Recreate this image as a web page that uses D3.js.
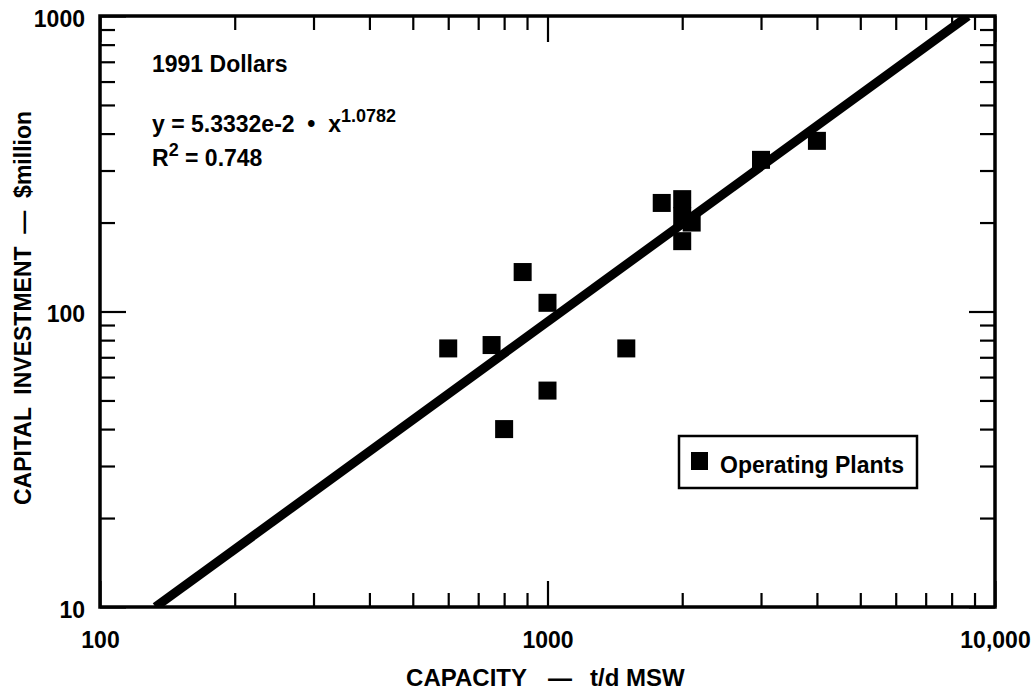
<!DOCTYPE html>
<html>
<head>
<meta charset="utf-8">
<script src="https://cdn.jsdelivr.net/npm/d3@7"></script>
<style>
  html, body { margin: 0; padding: 0; background: #fff; }
  svg { display: block; }
  text { font-family: "Liberation Sans", Arial, Helvetica, sans-serif; font-weight: bold; fill: #000; }
</style>
</head>
<body>
<svg id="chart" width="1033" height="692"></svg>
<script>
// ---- data ----
const capacity   = [600, 750, 880, 1000, 1000, 800, 1500, 1800, 2000, 2000, 2000, 2100, 3000, 4000];
const investment = [75,  77,  136, 107,  54,   40,  75,   233,  240,  210,  173,  200,  326,  378];
const trendX = [133, 8700];
const trendY = [10, 1000];
const xMajorTicks = [100, 1000, 10000];
const xMajorLabels = ["100", "1000", "10,000"];
const xMinorTicks = [200, 300, 400, 500, 600, 700, 800, 900, 2000, 3000, 4000, 5000, 6000, 7000, 8000, 9000];
const yMajorTicks = [10, 100, 1000];
const yMajorLabels = ["10", "100", "1000"];
const yMinorTicks = [20, 30, 40, 50, 60, 70, 80, 90, 200, 300, 400, 500, 600, 700, 800, 900];
const xTitleParts = ["CAPACITY", "\u2014", "t/d MSW"];
const yTitle = "CAPITAL  INVESTMENT  \u2014  $million";
const legendLabel = "Operating Plants";

// ---- layout ----
const L = 100, R = 995, T = 16, B = 607;
const svg = d3.select("#chart");
const x = d3.scaleLog().domain([100, 10000]).range([L, R]);
const y = d3.scaleLog().domain([10, 1000]).range([B, T]);

function styleAxis(g) {
  g.select(".domain").remove();
  g.selectAll(".tick line").attr("stroke", "#000").attr("stroke-width", 2.2);
  g.selectAll("text").attr("font-size", 23).attr("font-family", '"Liberation Sans", Arial, sans-serif').attr("font-weight", "bold");
}

// bottom axis
svg.append("g").attr("transform", `translate(0,${B})`)
  .call(d3.axisBottom(x).tickValues(xMinorTicks).tickSize(-14).tickFormat(""))
  .call(styleAxis);
svg.append("g").attr("transform", `translate(0,${B})`)
  .call(d3.axisBottom(x).tickValues(xMajorTicks).tickSize(-26).tickPadding(25)
        .tickFormat((d, i) => xMajorLabels[i]))
  .call(styleAxis);
// top axis
svg.append("g").attr("transform", `translate(0,${T})`)
  .call(d3.axisTop(x).tickValues(xMinorTicks).tickSize(-14).tickFormat(""))
  .call(styleAxis);
svg.append("g").attr("transform", `translate(0,${T})`)
  .call(d3.axisTop(x).tickValues(xMajorTicks).tickSize(-26).tickFormat(""))
  .call(styleAxis);
// left axis
svg.append("g").attr("transform", `translate(${L},0)`)
  .call(d3.axisLeft(y).tickValues(yMinorTicks).tickSize(-15).tickFormat(""))
  .call(styleAxis);
svg.append("g").attr("transform", `translate(${L},0)`)
  .call(d3.axisLeft(y).tickValues(yMajorTicks).tickSize(-26).tickPadding(15)
        .tickFormat((d, i) => yMajorLabels[i]))
  .call(styleAxis)
  .call(g => g.selectAll("text").attr("dy", "0.45em"));
// right axis
svg.append("g").attr("transform", `translate(${R},0)`)
  .call(d3.axisRight(y).tickValues(yMinorTicks).tickSize(-15).tickFormat(""))
  .call(styleAxis);
svg.append("g").attr("transform", `translate(${R},0)`)
  .call(d3.axisRight(y).tickValues(yMajorTicks).tickSize(-26).tickFormat(""))
  .call(styleAxis);

// clip for the trend line
svg.append("clipPath").attr("id", "plotclip")
  .append("rect").attr("x", L).attr("y", T).attr("width", R - L).attr("height", B - T);

// trend line
const trend = trendX.map((d, i) => [d, trendY[i]]);
svg.append("path")
  .datum(trend)
  .attr("clip-path", "url(#plotclip)")
  .attr("fill", "none").attr("stroke", "#000").attr("stroke-width", 9)
  .attr("d", d3.line().x(d => x(d[0])).y(d => y(d[1])));

// points
const S = 18;
svg.append("g").selectAll("rect")
  .data(capacity.map((c, i) => [c, investment[i]]))
  .join("rect")
  .attr("x", d => x(d[0]) - S / 2)
  .attr("y", d => y(d[1]) - S / 2)
  .attr("width", S).attr("height", S)
  .attr("fill", "#000");

// frame
svg.append("rect").attr("x", L).attr("y", T).attr("width", R - L).attr("height", B - T)
  .attr("fill", "none").attr("stroke", "#000").attr("stroke-width", 3.5);

// annotations
svg.append("text").attr("x", 152).attr("y", 72).attr("font-size", 23).text("1991 Dollars");
const eq = svg.append("text").attr("x", 152).attr("y", 132).attr("font-size", 23)
  .style("white-space", "pre");
eq.append("tspan").text("y = 5.3332e-2  \u2022  x");
eq.append("tspan").attr("font-size", 18).attr("dy", -10).text("1.0782");
const r2 = svg.append("text").attr("x", 152).attr("y", 166).attr("font-size", 23)
  .style("white-space", "pre");
r2.append("tspan").text("R");
r2.append("tspan").attr("font-size", 18).attr("dy", -10).text("2");
r2.append("tspan").attr("dy", 10).text(" = 0.748");

// legend
svg.append("rect").attr("x", 679).attr("y", 436).attr("width", 238).attr("height", 52)
  .attr("fill", "#fff").attr("stroke", "#000").attr("stroke-width", 2.5);
svg.append("rect").attr("x", 691).attr("y", 452).attr("width", 17).attr("height", 18).attr("fill", "#000");
svg.append("text").attr("x", 720).attr("y", 473).attr("font-size", 23).text(legendLabel);

// axis titles
const xt = svg.append("g").attr("font-size", 24);
xt.append("text").attr("x", 527).attr("y", 686).attr("text-anchor", "end").attr("font-size", 24).text(xTitleParts[0]);
xt.append("text").attr("x", 560).attr("y", 686).attr("text-anchor", "middle").attr("font-size", 24).text(xTitleParts[1]);
xt.append("text").attr("x", 590).attr("y", 686).attr("text-anchor", "start").attr("font-size", 24).text(xTitleParts[2]);
svg.append("text").attr("transform", `translate(31,308) rotate(-90)`)
  .attr("text-anchor", "middle").attr("font-size", 23).style("white-space", "pre").text(yTitle);
</script>
</body>
</html>
